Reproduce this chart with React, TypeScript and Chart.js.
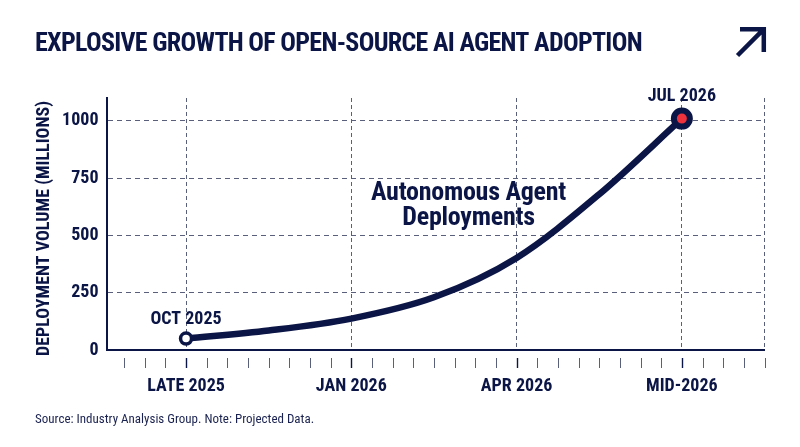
import React, { useEffect, useRef } from "react";
import { Chart, registerables } from "chart.js";

Chart.register(...registerables);

const NAVY = "#0b1546";
const GRID = "#5a5f7c";
const FONT = "'Roboto Condensed', Roboto, sans-serif";

const TITLE = "EXPLOSIVE GROWTH OF OPEN-SOURCE AI AGENT ADOPTION";
const Y_TITLE = "DEPLOYMENT VOLUME (MILLIONS)";
const SOURCE = "Source: Industry Analysis Group. Note: Projected Data.";
const SERIES_LINES = ["Autonomous Agent", "Deployments"];

const xPositions = [0, 4, 8, 12, 16, 20, 24];
const deployments = [50, 85, 137, 230, 402, 680, 1010];
const yTicks = [0, 250, 500, 750, 1000];
const xMinorTicks = [-3, -2, -1, 0, 1, 2, 3, 4, 5, 6, 7, 8, 9, 10, 11, 12, 13, 14, 15, 16, 17, 18, 19, 20, 21, 22, 23, 24, 25, 26, 27, 28];
const xMajorLabels: Record<number, string> = { 0: "LATE 2025", 8: "JAN 2026", 16: "APR 2026", 24: "MID-2026" };
const xGridAt = [0, 8, 16, 24, 28];
const pointLabels = [
  { x: 0, y: 50, text: "OCT 2025" },
  { x: 24, y: 1010, text: "JUL 2026" },
];

const decorations = {
  id: "decorations",
  beforeDatasetsDraw(chart: any) {
    const { ctx, scales } = chart;
    const x = scales.x, y = scales.y;
    ctx.save();
    xMinorTicks.forEach((t) => {
      const px = Math.round(x.getPixelForValue(t)) + 0.5;
      const major = t in xMajorLabels;
      ctx.strokeStyle = major ? NAVY : GRID;
      ctx.lineWidth = major ? 1.4 : 1;
      ctx.beginPath();
      ctx.moveTo(px, y.bottom + 8);
      ctx.lineTo(px, y.bottom + 18);
      ctx.stroke();
    });
    ctx.restore();
  },
  afterDraw(chart: any) {
    const { ctx, scales } = chart;
    const x = scales.x, y = scales.y;
    ctx.save();
    ctx.fillStyle = NAVY;
    ctx.textAlign = "center";
    ctx.textBaseline = "alphabetic";
    ctx.font = `bold 18px ${FONT}`;
    pointLabels.forEach((p) => {
      const off = p.y > 500 ? 18 : 15;
      ctx.fillText(p.text, x.getPixelForValue(p.x), y.getPixelForValue(p.y) - off);
    });
    ctx.font = `bold 26px ${FONT}`;
    ctx.letterSpacing = "-0.25px";
    ctx.fillText(SERIES_LINES[0], 468.5, 200);
    ctx.fillText(SERIES_LINES[1], 468.5, 225);
    ctx.textAlign = "left";
    ctx.letterSpacing = "-0.7px";
    ctx.fillText(TITLE, 35, 51);
    ctx.letterSpacing = "0px";
    ctx.font = `13px ${FONT}`;
    ctx.fillStyle = "#1a2250";
    ctx.fillText(SOURCE, 35, 423);
    ctx.save();
    ctx.translate(49, 228.5);
    ctx.rotate(-Math.PI / 2);
    ctx.textAlign = "center";
    ctx.fillStyle = NAVY;
    ctx.font = `bold 18px ${FONT}`;
    ctx.fillText(Y_TITLE, 0, 0);
    ctx.restore();
    ctx.strokeStyle = NAVY;
    ctx.lineWidth = 4.5;
    ctx.lineCap = "butt";
    ctx.beginPath();
    ctx.moveTo(740, 29.2);
    ctx.lineTo(763.8, 29.2);
    ctx.lineTo(763.8, 52);
    ctx.moveTo(763.8, 29.2);
    ctx.lineTo(737.5, 55.5);
    ctx.stroke();
    ctx.restore();
  },
};

export default function App() {
  const ref = useRef<HTMLCanvasElement>(null);
  useEffect(() => {
    document.body.style.margin = "0";
    document.body.style.background = "#ffffff";
    const chart = new Chart(ref.current!, {
      type: "line",
      plugins: [decorations],
      data: {
        datasets: [
          {
            label: SERIES_LINES.join(" "),
            data: xPositions.map((x, i) => ({ x, y: deployments[i] })),
            borderColor: NAVY,
            borderWidth: 6.5,
            cubicInterpolationMode: "monotone",
            borderCapStyle: "round",
            pointRadius: (c: any) => (c.dataIndex === 0 ? 5.5 : c.dataIndex === xPositions.length - 1 ? 8 : 0),
            pointBorderWidth: (c: any) => (c.dataIndex === 0 ? 3.5 : 6),
            pointBackgroundColor: (c: any) => (c.dataIndex === 0 ? "#ffffff" : "#f0323c"),
            pointBorderColor: NAVY,
            clip: false,
          } as any,
        ],
      },
      options: {
        animation: false,
        responsive: false,
        devicePixelRatio: 1,
        layout: { padding: { left: 0, right: 35.5, top: 98, bottom: 0 } },
        plugins: { legend: { display: false }, title: { display: false }, tooltip: { enabled: false } },
        scales: {
          x: {
            type: "linear",
            min: -3.85,
            max: 28,
            afterBuildTicks(scale: any) {
              scale.ticks = xMinorTicks.map((value) => ({ value }));
            },
            afterFit(scale: any) {
              scale.height = 97;
            },
            grid: {
              drawTicks: false,
              color: (c: any) => (c.tick && xGridAt.includes(c.tick.value) ? GRID : "rgba(0,0,0,0)"),
              lineWidth: 1,
            },
            border: { display: true, color: NAVY, width: 2, dash: [4, 3] },
            ticks: {
              autoSkip: false,
              maxRotation: 0,
              padding: 26,
              color: NAVY,
              font: { family: FONT, size: 18, weight: "bold" },
              callback: (v: any) => xMajorLabels[v] ?? "",
            },
          },
          y: {
            min: 0,
            max: 1100,
            afterBuildTicks(scale: any) {
              scale.ticks = yTicks.map((value) => ({ value }));
            },
            afterFit(scale: any) {
              scale.width = 106.5;
            },
            grid: { drawTicks: false, color: GRID, lineWidth: 1 },
            border: { display: true, color: NAVY, width: 2, dash: [5, 4] },
            ticks: {
              padding: 8,
              color: NAVY,
              font: { family: FONT, size: 18, weight: "bold" },
              callback: (v: any) => String(v),
            },
          },
        },
      },
    } as any);
    return () => chart.destroy();
  }, []);
  return <canvas ref={ref} width={800} height={447} style={{ display: "block" }} />;
}
